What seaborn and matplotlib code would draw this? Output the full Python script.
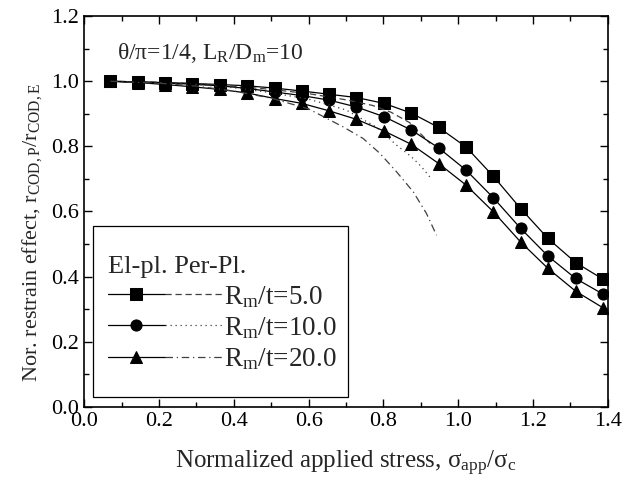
import numpy as np
import pandas as pd
import matplotlib
matplotlib.use("Agg")
import matplotlib.pyplot as plt
import seaborn as sns
from matplotlib.legend_handler import HandlerTuple
from matplotlib.ticker import MultipleLocator
from matplotlib.patches import Rectangle

# ---------------- data ----------------
x_ep = [0.070, 0.143, 0.216, 0.289, 0.362, 0.436, 0.509, 0.582, 0.655, 0.728,
        0.802, 0.875, 0.948, 1.021, 1.094, 1.167, 1.240, 1.314, 1.387]
ep_5 = [1.000, 0.998, 0.996, 0.993, 0.990, 0.986, 0.979, 0.970, 0.960, 0.950,
        0.932, 0.902, 0.858, 0.798, 0.708, 0.609, 0.517, 0.443, 0.392]
ep_10 = [1.000, 0.998, 0.995, 0.991, 0.986, 0.978, 0.967, 0.956, 0.942, 0.921,
         0.891, 0.850, 0.795, 0.727, 0.642, 0.548, 0.463, 0.394, 0.346]
ep_20 = [1.000, 0.996, 0.990, 0.983, 0.975, 0.964, 0.947, 0.932, 0.909, 0.883,
         0.847, 0.806, 0.747, 0.681, 0.599, 0.506, 0.425, 0.355, 0.304]

x_pp_5 = [0.07, 0.20, 0.30, 0.40, 0.50, 0.60, 0.70, 0.77, 0.82, 0.87, 0.925]
pp_5 = [1.000, 0.997, 0.993, 0.985, 0.975, 0.962, 0.943, 0.926, 0.905, 0.873, 0.809]
x_pp_10 = [0.07, 0.20, 0.30, 0.40, 0.50, 0.60, 0.70, 0.78, 0.835, 0.875, 0.902, 0.924]
pp_10 = [1.000, 0.996, 0.990, 0.980, 0.965, 0.945, 0.912, 0.860, 0.804, 0.768, 0.737, 0.706]
x_pp_20 = [0.07, 0.20, 0.30, 0.40, 0.50, 0.60, 0.692, 0.746, 0.791, 0.835, 0.880, 0.915, 0.942]
pp_20 = [1.000, 0.994, 0.985, 0.970, 0.948, 0.915, 0.860, 0.824, 0.778, 0.722, 0.660, 0.594, 0.527]

labels = ["R$_\\mathrm{m}$/t=5.0", "R$_\\mathrm{m}$/t=10.0", "R$_\\mathrm{m}$/t=20.0"]
markers = ["s", "o", "^"]
pp_styles = [(0, (5, 3)), (0, (1, 3)), (0, (6, 3, 1, 3))]

# ---------------- style ----------------
sns.set_theme(style="ticks")
plt.rcParams["font.family"] = ["Liberation Serif", "DejaVu Serif"]
plt.rcParams["mathtext.fontset"] = "custom"
plt.rcParams["mathtext.rm"] = "Liberation Serif"
plt.rcParams["mathtext.it"] = "Liberation Serif:italic"
plt.rcParams["mathtext.bf"] = "Liberation Serif:bold"

fig = plt.figure(figsize=(6.24, 4.90), dpi=100)
ax = fig.add_axes([0.135, 0.170, 0.839, 0.797])

ep_sets = [ep_5, ep_10, ep_20]
pp_sets = [(x_pp_5, pp_5), (x_pp_10, pp_10), (x_pp_20, pp_20)]
handles = []
for i in range(3):
    df = pd.DataFrame({"x": x_ep, "y": ep_sets[i]})
    sns.lineplot(data=df, x="x", y="y", ax=ax, color="black", linewidth=0.9,
                 marker=markers[i], markersize=8 if i != 2 else 9,
                 markeredgecolor="black", markerfacecolor="black", sort=False)
    l_ep = ax.lines[-1]
    xp, yp = pp_sets[i]
    dfp = pd.DataFrame({"x": xp, "y": yp})
    sns.lineplot(data=dfp, x="x", y="y", ax=ax, color="0.25", linewidth=0.9, sort=False)
    l_pp = ax.lines[-1]
    l_pp.set_linestyle(pp_styles[i])
    handles.append((l_ep, l_pp))

ax.set_xlim(0.0, 1.4)
ax.set_ylim(0.0, 1.2)
ax.xaxis.set_major_locator(MultipleLocator(0.2))
ax.xaxis.set_minor_locator(MultipleLocator(0.1))
ax.yaxis.set_major_locator(MultipleLocator(0.2))
ax.yaxis.set_minor_locator(MultipleLocator(0.1))
ax.xaxis.set_major_formatter(plt.FuncFormatter(lambda v, p: f"{v:.1f}"))
ax.yaxis.set_major_formatter(plt.FuncFormatter(lambda v, p: f"{v:.1f}"))
ax.tick_params(which="both", direction="in", top=True, right=True, colors="black",
               labelsize=16, width=1.0)
ax.tick_params(which="major", length=6, pad=4)
ax.tick_params(which="minor", length=3.5)
for s in ax.spines.values():
    s.set_visible(True)
    s.set_color("black")
    s.set_linewidth(1.2)

ax.set_xlabel("Normalized applied stress, σ$_\\mathrm{app}$/σ$_\\mathrm{c}$", fontsize=18, labelpad=13)
ax.set_ylabel("Nor. restrain effect, r$_\\mathrm{COD,P}$/r$_\\mathrm{COD,E}$", fontsize=16)
ax.yaxis.set_label_coords(-0.077, 0.445)

ax.text(0.063, 0.905, "θ/π=1/4, L$_\\mathrm{R}$/D$_\\mathrm{m}$=10", transform=ax.transAxes,
        fontsize=17, ha="left", va="center")

# legend frame (taller box as in the reference)
ax.add_patch(Rectangle((0.0166, 0.025), 0.487, 0.437, transform=ax.transAxes,
                       facecolor="white", edgecolor="black", linewidth=0.9, zorder=4))

leg = ax.legend(handles=handles, labels=labels, title="El-pl. Per-Pl.",
                handler_map={tuple: HandlerTuple(ndivide=None, pad=0.0)},
                loc="lower left", bbox_to_anchor=(0.0166, 0.050), borderaxespad=0,
                fontsize=19.5, title_fontsize=19, alignment="left", handlelength=4.2,
                handletextpad=0.1, labelspacing=0.2, borderpad=0.55,
                frameon=False)
leg.set_zorder(5)

fig.savefig("out.png", dpi=100)
